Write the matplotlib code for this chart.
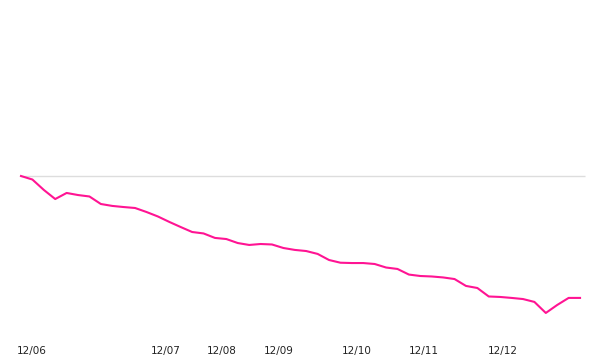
import matplotlib
matplotlib.use("Agg")
import matplotlib.pyplot as plt

# Értékek (kiindulás = 100)
values = [100, 97.8, 91.3, 85.6, 89.4, 88.1, 87.2, 82.5, 81.3, 80.6,
          80.0, 77.5, 74.7, 71.3, 68.1, 65.0, 64.1, 61.3, 60.6, 58.1,
          56.9, 57.5, 57.2, 55.0, 53.8, 53.1, 51.3, 47.5, 45.8, 45.6,
          45.6, 45.0, 42.8, 41.9, 38.4, 37.5, 37.2, 36.6, 35.6, 31.3,
          30.0, 24.7, 24.4, 23.8, 23.1, 21.3, 14.4, 19.4, 23.8, 23.8]
x = list(range(len(values)))

tick_labels = ["12/06", "12/07", "12/08", "12/09", "12/10", "12/11", "12/12"]
tick_pos = [0.92, 12.7, 17.6, 22.6, 29.4, 35.3, 42.2]
ref_value = 100

fig = plt.figure(figsize=(6, 3.6), dpi=100)
ax = fig.add_axes([0, 24 / 360, 1, 336 / 360])

ax.hlines(ref_value, -0.09, 49.44, color="#dddddd", linewidth=1)
ax.plot(x, values, color="#ff1493", linewidth=1.5, solid_joinstyle="round")

ax.set_xlim(-1.84, 50.75)
ax.set_ylim(0, 210)
ax.set_yticks([])
ax.set_xticks(tick_pos, tick_labels)
ax.tick_params(axis="x", length=0, pad=7, labelsize=7.5, colors="#222222")
for s in ax.spines.values():
    s.set_visible(False)

fig.savefig("out.png", dpi=100)
